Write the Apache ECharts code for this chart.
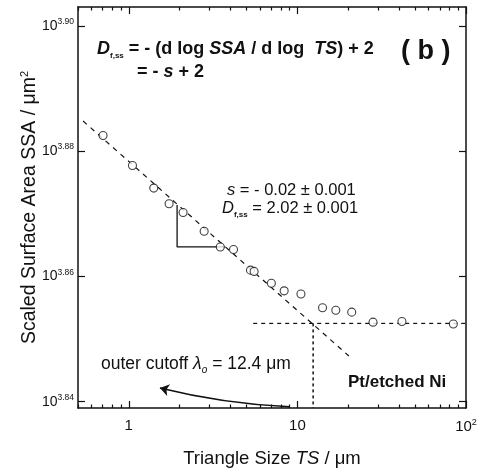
<!DOCTYPE html>
<html>
<head>
<meta charset="utf-8">
<script src="https://cdn.jsdelivr.net/npm/echarts@6/dist/echarts.min.js"></script>
<style>
  html, body { margin: 0; padding: 0; background: #fff; }
  #chart { width: 482px; height: 474px; }
</style>
</head>
<body>
<div id="chart"></div>
<script>
// measured points: triangle size (um) and log10 of scaled surface area
const tsValues = [0.704, 1.052, 1.407, 1.735, 2.10, 2.80, 3.49, 4.18, 5.27, 5.54, 7.01, 8.35, 10.5, 14.1, 16.9, 21.0, 28.1, 41.7, 84.1];
const logSsaValues = [3.8825, 3.8777, 3.8741, 3.8716, 3.8702, 3.8672, 3.8647, 3.8643, 3.8610, 3.8608, 3.8589, 3.8577, 3.8572, 3.8550, 3.8546, 3.8543, 3.8527, 3.8528, 3.8524];

// guide lines
const fitTs = [0.536, 20.2];
const fitLogSsa = [3.8848, 3.8473];
const plateauTs = [5.47, 100];
const plateauLogSsa = [3.8525, 3.8525];
const cutoffTs = [12.4, 12.4];
const cutoffLogSsa = [3.8525, 3.839];
const triTs = [1.935, 1.935, 3.71];
const triLogSsa = [3.8714, 3.8647, 3.8647];
const arrowTs = [1.53, 9.0];
const arrowLogSsa = [3.8422, 3.8392];

// axes
const xMinTs = 0.5;
const xMaxTs = 100;
const xMajorTs = [1, 10, 100];
const xMinorTs = [0.5, 0.6, 0.7, 0.8, 0.9, 2, 3, 4, 5, 6, 7, 8, 9, 20, 30, 40, 50, 60, 70, 80, 90];
const yTicks = [3.84, 3.86, 3.88, 3.90];
const yMin = 3.839;
const yMax = 3.903;

const FONT = 'Liberation Sans, Arial, Helvetica, sans-serif';
const lg = v => Math.log10(v);
const pairs = (xs, ys) => xs.map((x, i) => [lg(x), ys[i]]);

const chart = echarts.init(document.getElementById('chart'));

const frameLine = { show: true, onZero: false, lineStyle: { color: '#111', width: 1.5 } };
const noLine = { show: false, onZero: false };
const xCommon = { type: 'value', min: lg(xMinTs), max: lg(xMaxTs), splitLine: { show: false } };
const yCommon = { type: 'value', min: yMin, max: yMax, splitLine: { show: false } };

const option = {
  animation: false,
  backgroundColor: '#fff',
  grid: { left: 78, right: 16, top: 7, bottom: 66, containLabel: false, outerBoundsMode: 'none' },
  xAxis: [
    Object.assign({}, xCommon, {
      position: 'bottom',
      axisLine: frameLine,
      axisTick: { inside: true, length: 7, customValues: xMajorTs.map(lg), lineStyle: { color: '#111', width: 1.2 } },
      axisLabel: {
        customValues: xMajorTs.map(lg),
        margin: 10,
        color: '#111',
        fontFamily: FONT,
        fontSize: 15,
        formatter: v => (Math.abs(v - 2) < 1e-6 ? '{b|10}{s|2}' : '{b|' + Math.round(Math.pow(10, v)) + '}'),
        rich: {
          b: { fontSize: 15, fontFamily: FONT, color: '#111' },
          s: { fontSize: 9, fontFamily: FONT, color: '#111', verticalAlign: 'top', padding: [0, 0, 8, 0] }
        }
      },
      name: '{n|Triangle Size }{i|TS}{n| / μm}',
      nameLocation: 'middle',
      nameGap: 41,
      nameMoveOverlap: false,
      nameTextStyle: {
        rich: {
          n: { fontSize: 18.5, fontFamily: FONT, color: '#111' },
          i: { fontSize: 18.5, fontFamily: FONT, color: '#111', fontStyle: 'italic' }
        }
      }
    }),
    Object.assign({}, xCommon, {
      position: 'bottom',
      axisLine: noLine,
      axisTick: { inside: true, length: 3.5, customValues: xMinorTs.map(lg), lineStyle: { color: '#111', width: 1.2 } },
      axisLabel: { show: false }
    }),
    Object.assign({}, xCommon, {
      position: 'top',
      axisLine: frameLine,
      axisTick: { inside: true, length: 7, customValues: xMajorTs.map(lg), lineStyle: { color: '#111', width: 1.2 } },
      axisLabel: { show: false }
    }),
    Object.assign({}, xCommon, {
      position: 'top',
      axisLine: noLine,
      axisTick: { inside: true, length: 3.5, customValues: xMinorTs.map(lg), lineStyle: { color: '#111', width: 1.2 } },
      axisLabel: { show: false }
    })
  ],
  yAxis: [
    Object.assign({}, yCommon, {
      position: 'left',
      axisLine: frameLine,
      axisTick: { inside: true, length: 7, customValues: yTicks, lineStyle: { color: '#111', width: 1.2 } },
      axisLabel: {
        customValues: yTicks,
        margin: 4,
        formatter: v => '{b|10}{s|' + v.toFixed(2) + '}',
        rich: {
          b: { fontSize: 14, fontFamily: FONT, color: '#111' },
          s: { fontSize: 8.5, fontFamily: FONT, color: '#111', verticalAlign: 'top', padding: [0, 0, 8, 0] }
        }
      },
      name: '{n|Scaled Surface Area SSA / μm}{s|2}',
      nameLocation: 'middle',
      nameGap: 38,
      nameRotate: 90,
      nameMoveOverlap: false,
      nameTextStyle: {
        rich: {
          n: { fontSize: 19.5, fontFamily: FONT, color: '#111' },
          s: { fontSize: 11, fontFamily: FONT, color: '#111', verticalAlign: 'top', padding: [0, 0, 10, 0] }
        }
      }
    }),
    Object.assign({}, yCommon, {
      position: 'right',
      axisLine: frameLine,
      axisTick: { inside: true, length: 7, customValues: yTicks, lineStyle: { color: '#111', width: 1.2 } },
      axisLabel: { show: false }
    })
  ],
  series: [
    {
      name: 'fit',
      type: 'line',
      data: pairs(fitTs, fitLogSsa),
      symbol: 'none',
      lineStyle: { color: '#111', width: 1.2, type: [5, 5] },
      z: 2
    },
    {
      name: 'plateau',
      type: 'line',
      data: pairs(plateauTs, plateauLogSsa),
      symbol: 'none',
      lineStyle: { color: '#111', width: 1.2, type: [4, 4] },
      z: 2
    },
    {
      name: 'cutoff',
      type: 'line',
      data: pairs(cutoffTs, cutoffLogSsa),
      symbol: 'none',
      lineStyle: { color: '#111', width: 1.5, type: [3, 3] },
      z: 2
    },
    {
      name: 'slope',
      type: 'line',
      data: pairs(triTs, triLogSsa),
      symbol: 'none',
      lineStyle: { color: '#111', width: 1.3 },
      z: 2
    },
    {
      name: 'arrow',
      type: 'lines',
      coordinateSystem: 'cartesian2d',
      data: [{ coords: pairs(arrowTs, arrowLogSsa) }],
      symbol: ['arrow', 'none'],
      symbolSize: 9,
      lineStyle: { color: '#111', width: 1.4, curveness: -0.05, opacity: 1 },
      z: 2
    },
    {
      name: 'SSA',
      type: 'scatter',
      data: pairs(tsValues, logSsaValues),
      symbol: 'circle',
      symbolSize: 8,
      itemStyle: { color: '#fff', borderColor: '#111', borderWidth: 1.1 },
      z: 3
    }
  ],
  graphic: [
    {
      type: 'text', left: 97, top: 40,
      style: {
        text: '{i|D}{sub|f,ss}{n| = - (d log }{i|SSA}{n| / d log  }{i|TS}{n|) + 2}',
        rich: {
          n: { fontSize: 18, fontFamily: FONT, fontWeight: 'bold', fill: '#111', lineHeight: 22 },
          i: { fontSize: 18, fontFamily: FONT, fontWeight: 'bold', fontStyle: 'italic', fill: '#111', lineHeight: 22 },
          sub: { fontSize: 8, fontFamily: FONT, fontWeight: 'bold', fill: '#111', verticalAlign: 'bottom', lineHeight: 8 }
        }
      }
    },
    {
      type: 'text', left: 137, top: 63,
      style: {
        text: '{n|= - }{i|s}{n| + 2}',
        rich: {
          n: { fontSize: 18, fontFamily: FONT, fontWeight: 'bold', fill: '#111', lineHeight: 22 },
          i: { fontSize: 18, fontFamily: FONT, fontWeight: 'bold', fontStyle: 'italic', fill: '#111', lineHeight: 22 }
        }
      }
    },
    {
      type: 'text', left: 401, top: 38,
      style: { text: '( b )', fontSize: 27, fontFamily: FONT, fontWeight: 'bold', fill: '#111' }
    },
    {
      type: 'text', left: 227, top: 182,
      style: {
        text: '{i|s}{n| = - 0.02 ± 0.001}',
        rich: {
          n: { fontSize: 16.5, fontFamily: FONT, fill: '#111', lineHeight: 21 },
          i: { fontSize: 16.5, fontFamily: FONT, fontStyle: 'italic', fill: '#111', lineHeight: 21 }
        }
      }
    },
    {
      type: 'text', left: 222, top: 200,
      style: {
        text: '{i|D}{sub|f,ss}{n| = 2.02 ± 0.001}',
        rich: {
          n: { fontSize: 16.5, fontFamily: FONT, fill: '#111', lineHeight: 21 },
          i: { fontSize: 16.5, fontFamily: FONT, fontStyle: 'italic', fill: '#111', lineHeight: 21 },
          sub: { fontSize: 8, fontFamily: FONT, fontWeight: 'bold', fill: '#111', verticalAlign: 'bottom', lineHeight: 8 }
        }
      }
    },
    {
      type: 'text', left: 101, top: 355,
      style: {
        text: '{n|outer cutoff }{i|λ}{sub|o}{n| = 12.4 μm}',
        rich: {
          n: { fontSize: 17.5, fontFamily: FONT, fill: '#111', lineHeight: 22 },
          i: { fontSize: 17.5, fontFamily: FONT, fontStyle: 'italic', fill: '#111', lineHeight: 22 },
          sub: { fontSize: 10, fontFamily: FONT, fontStyle: 'italic', fill: '#111', verticalAlign: 'bottom', lineHeight: 10 }
        }
      }
    },
    {
      type: 'text', left: 348, top: 374,
      style: { text: 'Pt/etched Ni', fontSize: 17, fontFamily: FONT, fontWeight: 'bold', fill: '#111' }
    }
  ]
};

chart.setOption(option);
</script>
</body>
</html>
